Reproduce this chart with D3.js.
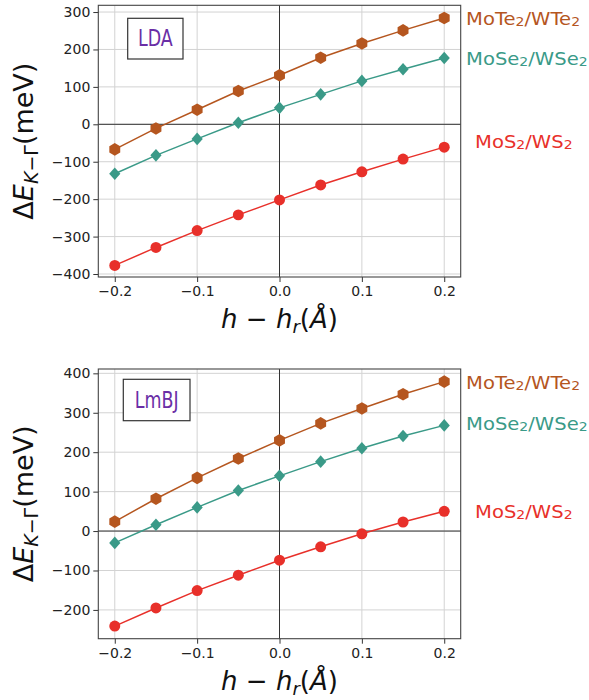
<!DOCTYPE html>
<html><head><meta charset="utf-8">
<script src="https://cdn.jsdelivr.net/npm/d3@7"></script>
<style>
body{margin:0;background:#fff;}
text{font-family:"DejaVu Sans",sans-serif;}
</style></head>
<body><svg id="c" width="589" height="700"></svg>
<script>
const xVals = [-0.2,-0.15,-0.1,-0.05,0,0.05,0.1,0.15,0.2];
const xTicks = [-0.2,-0.1,0.0,0.1,0.2];
const ldaTicks = [-400,-300,-200,-100,0,100,200,300];
const lmbjTicks = [-200,-100,0,100,200,300,400];
const ldaMoTe2 = [-67,-11,39,89,131,178,216,251,284];
const ldaMoSe2 = [-132,-83,-39,4,44,80,116,147,177];
const ldaMoS2  = [-377,-329,-284,-242,-202,-162,-127,-93,-61];
const lmbjMoTe2 = [24,82,135,184,230,273,311,347,379];
const lmbjMoSe2 = [-30,16,60,103,140,176,210,241,268];
const lmbjMoS2  = [-241,-195,-151,-112,-74,-40,-7,23,50];
const seriesNames = [["MoTe","2","/WTe","2"],["MoSe","2","/WSe","2"],["MoS","2","/WS","2"]];
const colors = ["#b5561f","#3a9a88","#e8302a"];
const markers = ["hex","diamond","circle"];

const svg = d3.select("#c");
const L = 98.3, R = 460.7;

function hexPath(r){
  const pts=[];
  for(let i=0;i<6;i++){const a=-Math.PI/2+i*Math.PI/3;pts.push([r*Math.cos(a),r*Math.sin(a)]);}
  return "M"+pts.map(p=>p.join(",")).join("L")+"Z";
}
function markerPath(type){
  if(type==="hex") return hexPath(6.3);
  if(type==="diamond") return "M0,-6.3L5.6,0L0,6.3L-5.6,0Z";
  return d3.symbol(d3.symbolCircle, 95)();
}

function panel(cfg){
  const g = svg.append("g");
  const x = d3.scaleLinear().domain([-0.22,0.22]).range([L,R]);
  const y = d3.scaleLinear().domain(cfg.ydom).range([cfg.bottom,cfg.top]);
  g.append("g").selectAll("line.gx").data(xTicks).join("line")
    .attr("x1",d=>x(d)).attr("x2",d=>x(d)).attr("y1",cfg.top).attr("y2",cfg.bottom)
    .attr("stroke","#d3d3d3").attr("stroke-width",1);
  g.append("g").selectAll("line.gy").data(cfg.yticks).join("line")
    .attr("x1",L).attr("x2",R).attr("y1",d=>y(d)).attr("y2",d=>y(d))
    .attr("stroke","#d3d3d3").attr("stroke-width",1);
  g.append("line").attr("x1",L).attr("x2",R).attr("y1",y(0)).attr("y2",y(0)).attr("stroke","#333").attr("stroke-width",1);
  g.append("line").attr("x1",x(0)).attr("x2",x(0)).attr("y1",cfg.top).attr("y2",cfg.bottom).attr("stroke","#333").attr("stroke-width",1);
  const fmtX = d=>(d<0?"\u2212":"")+Math.abs(d).toFixed(1);
  const fmtY = d=>(d<0?"\u2212":"")+Math.abs(d);
  const ax = g.append("g").attr("transform",`translate(0,${cfg.bottom})`)
    .call(d3.axisBottom(x).tickValues(xTicks).tickFormat(fmtX).tickSize(5).tickPadding(4));
  const ay = g.append("g").attr("transform",`translate(${L},0)`)
    .call(d3.axisLeft(y).tickValues(cfg.yticks).tickFormat(fmtY).tickSize(5).tickPadding(3));
  [ax,ay].forEach(a=>{
    a.select(".domain").remove();
    a.selectAll("text").attr("font-family","DejaVu Sans").attr("font-size","14px").attr("fill","#222");
    a.selectAll("line").attr("stroke","#333");
  });
  g.append("rect").attr("x",L).attr("y",cfg.top).attr("width",R-L).attr("height",cfg.bottom-cfg.top)
    .attr("fill","none").attr("stroke","#444").attr("stroke-width",1.1);
  const line = d3.line().x((d,i)=>x(xVals[i])).y(d=>y(d));
  cfg.data.forEach((s,k)=>{
    g.append("path").datum(s).attr("d",line).attr("fill","none").attr("stroke",colors[k]).attr("stroke-width",1.5);
    g.append("g").selectAll("path").data(s).join("path")
      .attr("d",markerPath(markers[k]))
      .attr("transform",(d,i)=>`translate(${x(xVals[i])},${y(d)})`)
      .attr("fill",colors[k]);
  });
  cfg.labels.forEach((lb,k)=>{
    const n = seriesNames[k];
    const t = g.append("text").attr("transform",`translate(${lb[0]},${lb[1]}) scale(1.12,1)`)
      .attr("font-size","17.5px").attr("fill",colors[k]).attr("dominant-baseline","middle");
    t.append("tspan").text(n[0]);
    t.append("tspan").text(n[1]).attr("font-size","12.5px").attr("dy","3.5");
    t.append("tspan").text(n[2]).attr("dy","-3.5");
    t.append("tspan").text(n[3]).attr("font-size","12.5px").attr("dy","3.5");
  });
  const b = cfg.box;
  g.append("rect").attr("x",b[0]).attr("y",b[1]).attr("width",b[2]).attr("height",b[3])
    .attr("fill","#fff").attr("stroke","#333").attr("stroke-width",1.2);
  const cx = b[0]+b[2]/2, cy = b[1]+b[3]/2+1;
  g.append("text").attr("transform",`translate(${cx},${cy}) scale(0.76,1)`)
    .attr("text-anchor","middle").attr("dominant-baseline","middle")
    .attr("font-size","23px").attr("fill","#6a2ea6").text(cfg.method);
  const yl = g.append("text").attr("transform",`translate(33,${(cfg.top+cfg.bottom)/2}) rotate(-90)`)
    .attr("text-anchor","middle").attr("font-size","27px").attr("fill","#111");
  yl.append("tspan").text("\u0394");
  yl.append("tspan").text("E").attr("font-style","italic");
  yl.append("tspan").text("K").attr("font-style","italic").attr("font-size","19px").attr("dy","5");
  yl.append("tspan").text("\u2212\u0393").attr("font-size","19px");
  yl.append("tspan").text("(meV)").attr("dy","-5");
  const xl = g.append("text").attr("x",(L+R)/2).attr("y",cfg.bottom+51).attr("text-anchor","middle").attr("font-size","26px").attr("fill","#111");
  xl.append("tspan").text("h").attr("font-style","italic");
  xl.append("tspan").text(" \u2212 ");
  xl.append("tspan").text("h").attr("font-style","italic");
  xl.append("tspan").text("r").attr("font-style","italic").attr("font-size","18px").attr("dy","5");
  xl.append("tspan").text("(").attr("dy","-5");
  xl.append("tspan").text("\u00C5").attr("font-style","italic");
  xl.append("tspan").text(")");
}

panel({top:5.3,bottom:277,ydom:[-408,318],yticks:ldaTicks,data:[ldaMoTe2,ldaMoSe2,ldaMoS2],
  labels:[[466,19],[466,59],[475,142]],box:[127.7,18.3,55.3,40.7],method:"LDA"});
panel({top:369,bottom:638.7,ydom:[-273,411],yticks:lmbjTicks,data:[lmbjMoTe2,lmbjMoSe2,lmbjMoS2],
  labels:[[466,383],[466,424],[475,512]],box:[123.3,379.3,66.7,41.4],method:"LmBJ"});
</script></body></html>
